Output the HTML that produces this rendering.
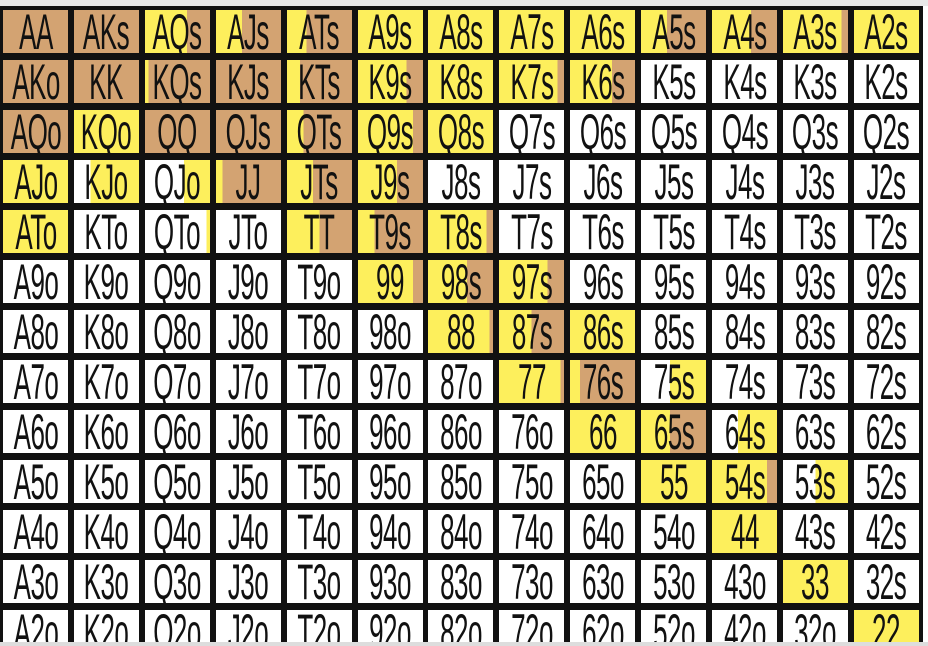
<!DOCTYPE html>
<html><head><meta charset="utf-8"><style>
html,body{margin:0;padding:0;background:#fff;width:928px;height:646px;overflow:hidden}
#top{position:absolute;left:0;top:0;width:928px;height:6px;background:#e8e8e8}
#grid{position:absolute;left:0;top:6px;width:923px;height:636px;background:#111;overflow:hidden}
.c{position:absolute;width:65px;height:43px;overflow:hidden}
.c span{position:absolute;left:50%;top:50%;transform:translate(-50%,-50%) scaleX(0.52);font-family:"Liberation Sans",sans-serif;font-size:50px;line-height:50px;color:#111;white-space:nowrap;letter-spacing:-1px}
#bot{position:absolute;left:0;top:642px;width:928px;height:4px;background:#ddd}
</style></head><body>
<div id="top"></div>
<div id="grid"></div>
<div id="bot"></div>
<script>
const ranks=['A','K','Q','J','T','9','8','7','6','5','4','3','2'];
// per-cell: white until a, yellow from a to b, tan from b to 1 (fractions)
const whiteEnd=[
[0,0,0,0,0,0,0,0,0,0,0,0,0],
[0,0,0,0,0,0,0,0,0,1,1,1,1],
[0,0,0,0,0,0,0,1,1,1,1,1,1],
[0,0.25,0.6,0,0,0,1,1,1,1,1,1,1],
[0,1,0.95,1,0,0,0,1,1,1,1,1,1],
[1,1,1,1,1,0,0,0,1,1,1,1,1],
[1,1,1,1,1,1,0,0,0,1,1,1,1],
[1,1,1,1,1,1,1,0,0,0.45,1,1,1],
[1,1,1,1,1,1,1,1,0,0,0.4,1,1],
[1,1,1,1,1,1,1,1,1,0,0,0.5,1],
[1,1,1,1,1,1,1,1,1,1,0,1,1],
[1,1,1,1,1,1,1,1,1,1,1,0,1],
[1,1,1,1,1,1,1,1,1,1,1,1,0]];
const yellowEnd=[
[0,0,0.65,0.4,0.3,1,1,1,1,0.4,0.6,0.9,1],
[0,0,0.05,0,0.2,0.75,1,0.9,0.65,1,1,1,1],
[0,1,0,0,0.25,0.85,1,1,1,1,1,1,1],
[1,1,1,0.1,0.4,0.6,1,1,1,1,1,1,1],
[1,1,1,1,0.5,0.25,0.9,1,1,1,1,1,1],
[1,1,1,1,1,0.85,0.6,0.75,1,1,1,1,1],
[1,1,1,1,1,1,0.95,0.5,1,1,1,1,1],
[1,1,1,1,1,1,1,0.95,0.15,1,1,1,1],
[1,1,1,1,1,1,1,1,1,0.45,1,1,1],
[1,1,1,1,1,1,1,1,1,1,0.85,1,1],
[1,1,1,1,1,1,1,1,1,1,1,1,1],
[1,1,1,1,1,1,1,1,1,1,1,1,1],
[1,1,1,1,1,1,1,1,1,1,1,1,1]];
const W='#ffffff',Y='#fdef5c',T='#d3a372';
const g=document.getElementById('grid');
const pitchX=70.9,pitchY=50;
for(let r=0;r<13;r++){for(let c=0;c<13;c++){
  let lbl = r===c ? ranks[r]+ranks[c] : (c>r ? ranks[r]+ranks[c]+'s' : ranks[c]+ranks[r]+'o');
  const d=document.createElement('div');
  d.className='c';
  
  
  d.style.left=(c*pitchX+3)+'px';
  d.style.top=(r*pitchY+4)+'px';
  const a=whiteEnd[r][c]*100,b=Math.max(yellowEnd[r][c],whiteEnd[r][c])*100;
  d.style.background=`linear-gradient(to right,${W} 0%,${W} ${a}%,${Y} ${a}%,${Y} ${b}%,${T} ${b}%,${T} 100%)`;
  const s=document.createElement('span');
  
  
  s.textContent=lbl;
  d.appendChild(s);
  g.appendChild(d);
}}
</script>
</body></html>
